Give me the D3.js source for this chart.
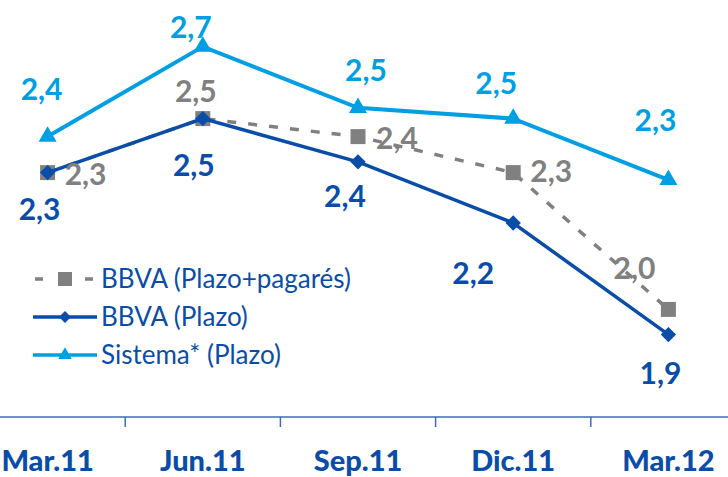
<!DOCTYPE html>
<html>
<head>
<meta charset="utf-8">
<script src="https://cdn.jsdelivr.net/npm/d3@7"></script>
<style>
  body { margin: 0; background: #fff; }
  svg { display: block; font-family: Lato, "Open Sans", sans-serif; }
</style>
</head>
<body>
<div id="chart"></div>
<script>
// periods on the x axis
const periods = ["Mar.11", "Jun.11", "Sep.11", "Dic.11", "Mar.12"];

// series values (%)
const pagares = [2.34, 2.49, 2.44, 2.34, 1.96];   // BBVA (Plazo+pagarés)
const plazo = [2.34, 2.49, 2.37, 2.20, 1.89];     // BBVA (Plazo)
const sistema = [2.44, 2.69, 2.52, 2.49, 2.32];   // Sistema* (Plazo)

const seriesNames = ["BBVA (Plazo+pagarés)", "BBVA (Plazo)", "Sistema* (Plazo)"];

const width = 728,
    height = 477;

const grey = "#808080",
    navy = "#0A4DA8",
    sky = "#009FE3";

// label offsets from each point (dx = centre, dy = baseline)
const offPagares = [[38, 12], [-7, -17], [39, 12], [38, 9], [-34, -30]];
const offPlazo = [[-8, 47], [-9, 57], [-13, 45], [-40, 61], [-8, 49]];
const offSistema = [[-6, -37], [-12, -9], [8, -27], [-17, -25], [-13, -49]];

const svg = d3.select("#chart")
    .append("svg")
    .attr("width", width)
    .attr("height", height);

const x = d3.scaleBand()
    .domain(periods)
    .range([-30, 746])
    .paddingInner(0);

const y = d3.scaleLinear()
    .domain([1.5, 2.8])
    .range([475, 7]);

const cx = d => x(d) + x.bandwidth() / 2;
const fmt = v => d3.format(".1f")(v).replace(".", ",");

// x axis
const axisY = 417;
svg.append("line")
    .attr("x1", 0).attr("x2", width)
    .attr("y1", axisY).attr("y2", axisY)
    .attr("stroke", "#3F6DB8")
    .attr("stroke-width", 1.5);

svg.selectAll(".tick-line")
    .data(periods.slice(1))
    .join("line")
    .attr("class", "tick-line")
    .attr("x1", d => x(d)).attr("x2", d => x(d))
    .attr("y1", axisY).attr("y2", axisY + 10)
    .attr("stroke", "#3F6DB8")
    .attr("stroke-width", 1.5);

svg.selectAll(".x-label")
    .data(periods)
    .join("text")
    .attr("class", "x-label")
    .attr("x", d => cx(d))
    .attr("y", 471)
    .attr("text-anchor", "middle")
    .attr("font-size", 29)
    .attr("font-weight", 900)
    .attr("fill", navy)
    .text(d => d);

const line = d3.line()
    .x((d, i) => cx(periods[i]))
    .y(d => y(d));

// BBVA (Plazo+pagarés) - dashed grey
svg.append("path")
    .datum(pagares)
    .attr("d", line)
    .attr("fill", "none")
    .attr("stroke", grey)
    .attr("stroke-width", 3.5)
    .attr("stroke-dasharray", "9,12");

svg.selectAll(".sq")
    .data(pagares)
    .join("rect")
    .attr("class", "sq")
    .attr("x", (d, i) => cx(periods[i]) - 7.5)
    .attr("y", d => y(d) - 7.5)
    .attr("width", 15)
    .attr("height", 15)
    .attr("fill", grey);

// BBVA (Plazo)
svg.append("path")
    .datum(plazo)
    .attr("d", line)
    .attr("fill", "none")
    .attr("stroke", navy)
    .attr("stroke-width", 3.5);

const diamond = d3.symbol().type(d3.symbolDiamond2).size(150);
const triangle = d3.symbol().type(d3.symbolTriangle).size(140);

svg.selectAll(".dia")
    .data(plazo)
    .join("path")
    .attr("class", "dia")
    .attr("d", diamond)
    .attr("transform", (d, i) => `translate(${cx(periods[i])},${y(d)})`)
    .attr("fill", navy);

// Sistema
svg.append("path")
    .datum(sistema)
    .attr("d", line)
    .attr("fill", "none")
    .attr("stroke", sky)
    .attr("stroke-width", 4);

svg.selectAll(".tri")
    .data(sistema)
    .join("path")
    .attr("class", "tri")
    .attr("d", triangle)
    .attr("transform", (d, i) => `translate(${cx(periods[i])},${y(d)})`)
    .attr("fill", sky);

// value labels
function labels(data, off, color, cls) {
    svg.selectAll("." + cls)
        .data(data)
        .join("text")
        .attr("class", cls)
        .attr("x", (d, i) => cx(periods[i]) + off[i][0])
        .attr("y", (d, i) => y(d) + off[i][1])
        .attr("text-anchor", "middle")
        .attr("font-size", 30)
        .attr("font-weight", 700)
        .attr("fill", color)
        .text(d => fmt(d));
}
labels(pagares, offPagares, grey, "lab-pag");
labels(plazo, offPlazo, navy, "lab-plazo");
labels(sistema, offSistema, sky, "lab-sis");

// legend
const legend = svg.append("g")
    .attr("transform", "translate(33,279)");

const item = legend.selectAll("g")
    .data(seriesNames)
    .join("g")
    .attr("transform", (d, i) => `translate(0,${i * 38})`);

item.each(function (d, i) {
    const g = d3.select(this);
    if (i === 0) {
        g.append("line")
            .attr("x1", 2).attr("x2", 62)
            .attr("stroke", grey)
            .attr("stroke-width", 3.5)
            .attr("stroke-dasharray", "8,42");
        g.append("rect")
            .attr("x", 25).attr("y", -7)
            .attr("width", 14).attr("height", 14)
            .attr("fill", grey);
    } else {
        const c = i === 1 ? navy : sky;
        g.append("line")
            .attr("x1", 0).attr("x2", 64)
            .attr("stroke", c)
            .attr("stroke-width", 3.5);
        g.append("path")
            .attr("d", i === 1 ? d3.symbol().type(d3.symbolDiamond2).size(90)() : d3.symbol().type(d3.symbolTriangle).size(80)())
            .attr("transform", "translate(32,0)")
            .attr("fill", c);
    }
    g.append("text")
        .attr("x", 68)
        .attr("y", 9)
        .attr("font-size", 26)
        .attr("fill", navy)
        .text(d);
});
</script>
</body>
</html>
